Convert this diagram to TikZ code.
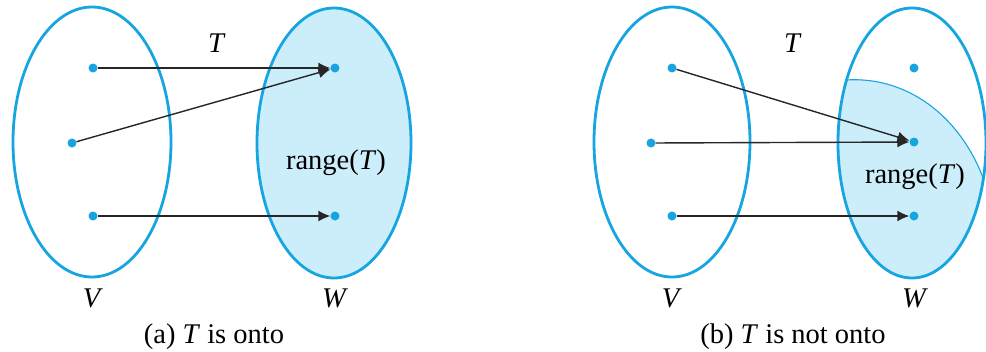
\documentclass[tikz,border=0pt]{standalone}
\usepackage{fontspec}
\setmainfont{Liberation Serif}
\usetikzlibrary{arrows.meta}
\definecolor{setblue}{RGB}{22,165,225}
\definecolor{rangefill}{RGB}{204,237,250}
\tikzset{
  setline/.style={draw=setblue, line width=2.8pt},
  pt/.style={circle, fill=setblue, inner sep=0pt, minimum size=9pt},
  maparrow/.style={draw=black!85, line width=1.4pt, -{Latex[length=12pt,width=11pt]}},
  lbl/.style={font=\fontsize{28.5}{32}\selectfont, inner sep=0pt},
}
\begin{document}
\begin{tikzpicture}[x=1pt, y=-1pt]
\useasboundingbox (0,0) rectangle (986,351);
% ---------- (a) ----------
\fill[rangefill] (334,143) ellipse [x radius=77pt, y radius=135pt];
\draw[setline] (92,142) ellipse [x radius=79pt, y radius=135pt];
\draw[setline] (334,143) ellipse [x radius=77pt, y radius=135pt];
\node[pt] (av1) at (93,68) {};
\node[pt] (av2) at (72,143) {};
\node[pt] (av3) at (93,216) {};
\node[pt] (aw1) at (335,68) {};
\node[pt] (aw3) at (335,216) {};
\draw[maparrow] (av1) -- (aw1);
\draw[maparrow] (av2) -- (aw1);
\draw[maparrow] (av3) -- (aw3);
\node[lbl] (aT) at (217,43) {\textit{T}};
\node[lbl] (arange) at (336,163) {range(\textit{T})};
\node[lbl] (aV) at (93,298) {\textit{V}};
\node[lbl] (aW) at (335,298) {\textit{W}};
\node[lbl] (acap) at (214,337) {(a) \textit{T} is onto};
% ---------- (b) ----------
\begin{scope}
  \clip (912,143) ellipse [x radius=74pt, y radius=135pt];
  \fill[rangefill] (830,82) .. controls (905,68) and (970,120) .. (990,200)
     -- (995,300) -- (830,300) -- cycle;
  \draw[draw=setblue, line width=1.1pt] (830,82) .. controls (905,68) and (970,120) .. (990,200);
\end{scope}
\draw[setline] (672,142) ellipse [x radius=78pt, y radius=135pt];
\draw[setline] (912,143) ellipse [x radius=74pt, y radius=135pt];
\node[pt] (bv1) at (672,68) {};
\node[pt] (bv2) at (651,143) {};
\node[pt] (bv3) at (672,216) {};
\node[pt] (bw1) at (914,68) {};
\node[pt] (bw2) at (914,142) {};
\node[pt] (bw3) at (914,216) {};
\draw[maparrow] (bv1) -- (bw2);
\draw[maparrow] (bv2) -- (bw2);
\draw[maparrow] (bv3) -- (bw3);
\node[lbl] (bT) at (793,43) {\textit{T}};
\node[lbl] (brange) at (915,177) {range(\textit{T})};
\node[lbl] (bV) at (672,298) {\textit{V}};
\node[lbl] (bW) at (915,298) {\textit{W}};
\node[lbl] (bcap) at (793,337) {(b) \textit{T} is not onto};
\end{tikzpicture}
\end{document}
